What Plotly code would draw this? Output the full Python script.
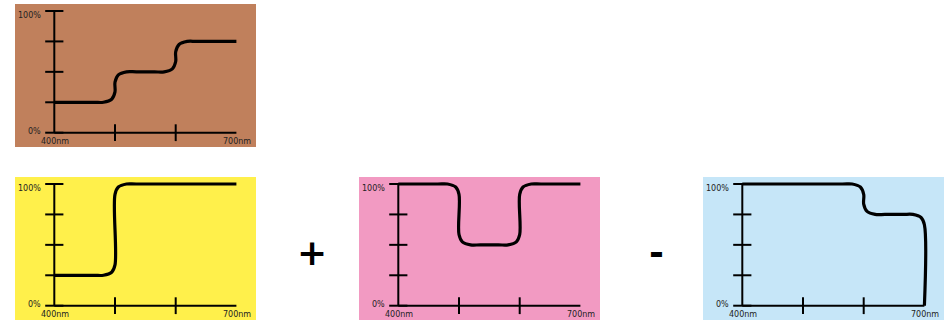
import plotly.graph_objects as go

W, H = 944, 323

# ---- data ----
X_AXIS_NM = [400, 700]
Y_AXIS_PCT = [0, 100]
X_TICKS = [500, 600]
Y_TICKS = [0, 25, 50, 75, 100]
X_TICK_LABELS = ["400nm", "700nm"]
Y_TICK_LABELS = ["0%", "100%"]

# curve key points (wavelength nm, transmission %), rounded corners via spline
brown_x = [400, 465, 481, 494.5, 500, 500, 505.5, 519, 535, 565, 581, 594.5, 600, 600, 605.5, 619, 635, 700]
brown_y = [25, 25, 25, 27.5, 33.5, 41.5, 47.5, 50, 50, 50, 50, 52.5, 58.5, 66.5, 72.5, 75, 75, 75]

yellow_x = [400, 465, 481, 494.5, 500, 500, 505.5, 519, 535, 700]
yellow_y = [25, 25, 25, 27.5, 33.5, 91.5, 97.5, 100, 100, 100]

pink_x = [400, 465, 481, 494.5, 500, 500, 505.5, 519, 535, 565, 581, 594.5, 600, 600, 605.5, 619, 635, 700]
pink_y = [100, 100, 100, 97.5, 91.5, 58.5, 52.5, 50, 50, 50, 50, 52.5, 58.5, 91.5, 97.5, 100, 100, 100]

blue_x = [400, 565, 581, 594.5, 600, 600, 605.5, 619, 635, 665, 681, 694.5, 700, 700]
blue_y = [100, 100, 100, 97.5, 91.5, 83.5, 77.5, 75, 75, 75, 75, 72.5, 66.5, 0]

OPERATORS = ["+", "-"]

# ---- panels: (x-data, y-data, colour, left px, top px) ----
panels = [
    (brown_x, brown_y, "#C0805C", 15, 4),
    (yellow_x, yellow_y, "#FFF04B", 15, 177),
    (pink_x, pink_y, "#F29AC2", 359, 177),
    (blue_x, blue_y, "#C6E6F8", 703, 177),
]
PW, PH = 241, 143
# axis placement inside a panel (pixels)
AX_L, AX_R, AX_T, AX_B = 39.3, 19.6, 7.0, 14.3

sx = (PW - AX_L - AX_R) / (X_AXIS_NM[1] - X_AXIS_NM[0])
sy = (PH - AX_T - AX_B) / (Y_AXIS_PCT[1] - Y_AXIS_PCT[0])
xr = [X_AXIS_NM[0] - AX_L / sx, X_AXIS_NM[1] + AX_R / sx]
yr = [Y_AXIS_PCT[0] - AX_B / sy, Y_AXIS_PCT[1] + AX_T / sy]

fig = go.Figure()
layout = dict(
    width=W, height=H, margin=dict(l=0, r=0, t=0, b=0),
    paper_bgcolor="white", plot_bgcolor="rgba(0,0,0,0)",
    showlegend=False, shapes=[], annotations=[],
    font=dict(family="DejaVu Sans", color="#222"),
)

for i, (cx, cy, col, left, top) in enumerate(panels):
    n = "" if i == 0 else str(i + 1)
    xa, ya = "x" + n, "y" + n
    layout["xaxis" + n] = dict(
        domain=[left / W, (left + PW) / W], range=xr, anchor=ya,
        visible=False, fixedrange=True,
    )
    layout["yaxis" + n] = dict(
        domain=[1 - (top + PH) / H, 1 - top / H], range=yr, anchor=xa,
        visible=False, fixedrange=True,
    )
    layout["shapes"].append(dict(
        type="rect", xref=xa + " domain", yref=ya + " domain",
        x0=0, x1=1, y0=0, y1=1, fillcolor=col, line=dict(width=0), layer="below",
    ))
    # axis lines
    fig.add_trace(go.Scatter(
        x=[X_AXIS_NM[0], X_AXIS_NM[1], None, X_AXIS_NM[0], X_AXIS_NM[0]],
        y=[Y_AXIS_PCT[0], Y_AXIS_PCT[0], None, Y_AXIS_PCT[0], Y_AXIS_PCT[1]],
        mode="lines", line=dict(color="black", width=2),
        xaxis=xa, yaxis=ya, hoverinfo="skip",
    ))
    # tick marks
    fig.add_trace(go.Scatter(
        x=X_TICKS, y=[Y_AXIS_PCT[0]] * len(X_TICKS), mode="markers",
        marker=dict(symbol="line-ns", size=12, line=dict(color="black", width=2)),
        xaxis=xa, yaxis=ya, hoverinfo="skip", cliponaxis=False,
    ))
    fig.add_trace(go.Scatter(
        x=[X_AXIS_NM[0]] * len(Y_TICKS), y=Y_TICKS, mode="markers",
        marker=dict(symbol="line-ew", size=13, line=dict(color="black", width=2)),
        xaxis=xa, yaxis=ya, hoverinfo="skip", cliponaxis=False,
    ))
    # curve
    fig.add_trace(go.Scatter(
        x=cx, y=cy, mode="lines",
        line=dict(color="black", width=3.2, shape="spline", smoothing=1.0),
        xaxis=xa, yaxis=ya, hoverinfo="skip", cliponaxis=False,
    ))
    # tick labels
    for xv, lab in zip(X_AXIS_NM, X_TICK_LABELS):
        layout["annotations"].append(dict(
            x=xv, y=Y_AXIS_PCT[0], xref=xa, yref=ya, text=lab, showarrow=False,
            xanchor="center", yanchor="middle", yshift=-9, xshift=0.5,
            font=dict(size=8, family="DejaVu Sans", color="#222"),
        ))
    for yv, lab, ys in zip(Y_AXIS_PCT, Y_TICK_LABELS, [1.5, -4]):
        layout["annotations"].append(dict(
            x=X_AXIS_NM[0], y=yv, xref=xa, yref=ya, text=lab, showarrow=False,
            xanchor="right", yanchor="middle", xshift=-11.5, yshift=ys,
            font=dict(size=8, family="DejaVu Sans", color="#222"),
        ))

# operators between panels
for op, px, py in zip(OPERATORS, [312.3, 656.0], [252.3, 252.7]):
    layout["annotations"].append(dict(
        x=px / W, y=1 - py / H, xref="paper", yref="paper", text="<b>%s</b>" % op,
        showarrow=False, xanchor="center", yanchor="middle",
        font=dict(size=36, family="DejaVu Sans", color="black"),
    ))

fig.update_layout(**layout)
fig.write_html(
    "out.html",
    config={"displayModeBar": False},
    post_script="document.body.style.margin='0';document.body.style.overflow='hidden';",
)
